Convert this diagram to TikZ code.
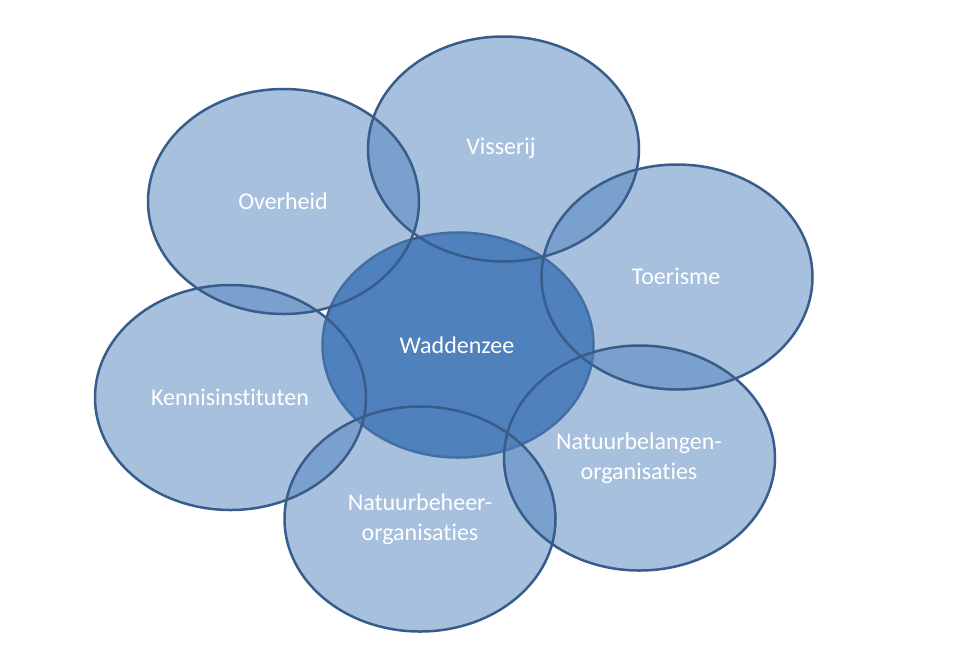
\documentclass[tikz,border=0pt]{standalone}
\usepackage{fontspec}
\setmainfont{Carlito}[Ligatures={NoCommon}]
\usetikzlibrary{shapes.geometric}
\definecolor{blobfill}{HTML}{4F81BD}
\definecolor{blobline}{HTML}{385D8A}
\tikzset{
  blob/.style={ellipse, inner sep=0pt, minimum width=271pt, minimum height=225pt,
    fill=blobfill, fill opacity=0.5, draw=none},
  core/.style={ellipse, inner sep=0pt, minimum width=271pt, minimum height=225pt,
    fill=blobfill, draw=blobline, line width=2.5pt},
  rim/.style={draw=blobline, line width=2.5pt},
  lbl/.style={text=white, align=center, font=\fontsize{24}{29.5}\selectfont}
}
\begin{document}
\begin{tikzpicture}[x=1pt,y=-1pt]
\useasboundingbox (0,0) rectangle (960,665);
% central shape
\node[core] (wad) at (458,345) {};
% outer shapes (semi-transparent fills)
\node[blob] (ovh) at (283.5,201.5) {};
\node[blob] (vis) at (503.5,149) {};
\node[blob] (toe) at (677,277) {};
\node[blob] (nbl) at (639.5,458) {};
\node[blob] (nbh) at (420,519) {};
\node[blob] (ken) at (230.5,397.5) {};
% outlines
\foreach \n in {ovh,vis,toe,nbl,nbh,ken}
  \draw[rim] (\n.center) ellipse [x radius=135.5, y radius=112.5];
% labels
\node[lbl] (tovh) at (283,201) {Overheid};
\node[lbl] (tvis) at (501,148) {Visserij};
\node[lbl] (ttoe) at (676,276) {Toerisme};
\node[lbl] (twad) at (457,345) {Waddenzee};
\node[lbl] (tken) at (230,397) {Kennisinstituten};
\node[lbl] (tnbh) at (420,519) {Natuurbeheer-\\organisaties};
\node[lbl] (tnbl) at (639,458) {Natuurbelangen-\\organisaties};
\end{tikzpicture}
\end{document}
